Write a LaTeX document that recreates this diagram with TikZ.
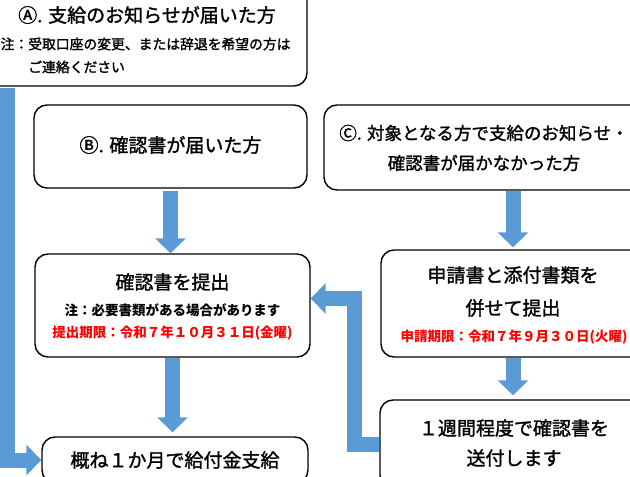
\documentclass[tikz,border=0pt]{standalone}
\usepackage{fontspec}
\setmainfont{Noto Sans CJK JP}
\newfontfamily\headfont[FakeBold=1.5]{Noto Sans CJK JP}
\usetikzlibrary{arrows.meta}

\definecolor{flowblue}{HTML}{5B9BD5}
\definecolor{dueRed}{HTML}{FF0000}

\tikzset{
  box/.style={draw=black, line width=1.4pt, rounded corners=13pt, fill=white},
  head/.style={font=\headfont\fontsize{19}{23}\selectfont, inner sep=0pt},
  headsmall/.style={font=\headfont\fontsize{17.5}{30}\selectfont, inner sep=0pt, align=center},
  note/.style={font=\headfont\fontsize{13.8}{23}\selectfont, inner sep=0pt},
  due/.style={font=\bfseries\fontsize{13.5}{16}\selectfont, text=dueRed, inner sep=0pt},
  flow/.style={draw=flowblue, line width=15pt, -{Triangle[width=30pt,length=15pt]}},
}

\begin{document}
\begin{tikzpicture}[x=1pt,y=-1pt]

    \useasboundingbox (0,0) rectangle (630,477);
    \clip (0,0) rectangle (630,477);

    % boxes
    \node [box, minimum width=350pt, minimum height=106pt] (a) at (132,  33  ) {};
    \node [box, minimum width=273pt, minimum height=83pt ] (b) at (170.5,146.5) {};
    \node [box, minimum width=320pt, minimum height=85pt ] (c) at (484,  147.5) {};
    \node [box, minimum width=275pt, minimum height=103pt] (d) at (172.5,305.5) {};
    \node [box, minimum width=264pt, minimum height=107pt] (f) at (513,  303.5) {};
    \node [box, minimum width=266pt, minimum height=88pt ] (g) at (513,  444  ) {};
    \node [box, minimum width=266pt, minimum height=46pt ] (e) at (175,  460  ) {};

    % texts
    \node [head] (atitle) at (147, 15) {Ⓐ. 支給のお知らせが届いた方};
    \node [note, anchor=west, align=left] (anote) at (0.5, 55.5)
        {注：受取口座の変更、または辞退を希望の方は\\\hspace*{2em}ご連絡ください};

    \node [head] (btitle) at (170.5, 145) {Ⓑ. 確認書が届いた方};

    \node [headsmall] (ctitle) at (484, 148)
        {Ⓒ. 対象となる方で支給のお知らせ・\\確認書が届かなかった方};

    \node [head]             (dtitle) at (172.5, 282) {確認書を提出};
    \node [due, text=black]  (dnote)  at (172.5, 310) {注：必要書類がある場合があります};
    \node [due]              (ddue)   at (172.5, 333) {提出期限：令和７年１０月３１日(金曜)};

    \node [head] (ftitlea) at (513, 275) {申請書と添付書類を};
    \node [head] (ftitleb) at (513, 308) {併せて提出};
    \node [due]  (fdue)    at (514, 337) {申請期限：令和７年９月３０日(火曜)};

    \node [head] (gtexta) at (514, 428) {１週間程度で確認書を};
    \node [head] (gtextb) at (514, 458) {送付します};

    \node [head] (etext) at (175, 460) {概ね１か月で給付金支給};

    % arrows
    \coordinate (afeed) at (7, 88);

    \draw [flow] (afeed) |- (e.west);
    \draw [flow, shorten <=2pt] (b.south) -- (b.south |- d.north);
    \draw [flow, shorten >=4pt] (d.south) -- (d.south |- e.north);
    \draw [flow, shorten >=2pt] (c.south -| f.north) -- (f.north);
    \draw [flow, shorten >=4pt] (f.south) -- (f.south |- g.north);
    \draw [flow] (g.west) -- ++(-25,0) |- ([yshift=7pt]d.east);

\end{tikzpicture}
\end{document}
